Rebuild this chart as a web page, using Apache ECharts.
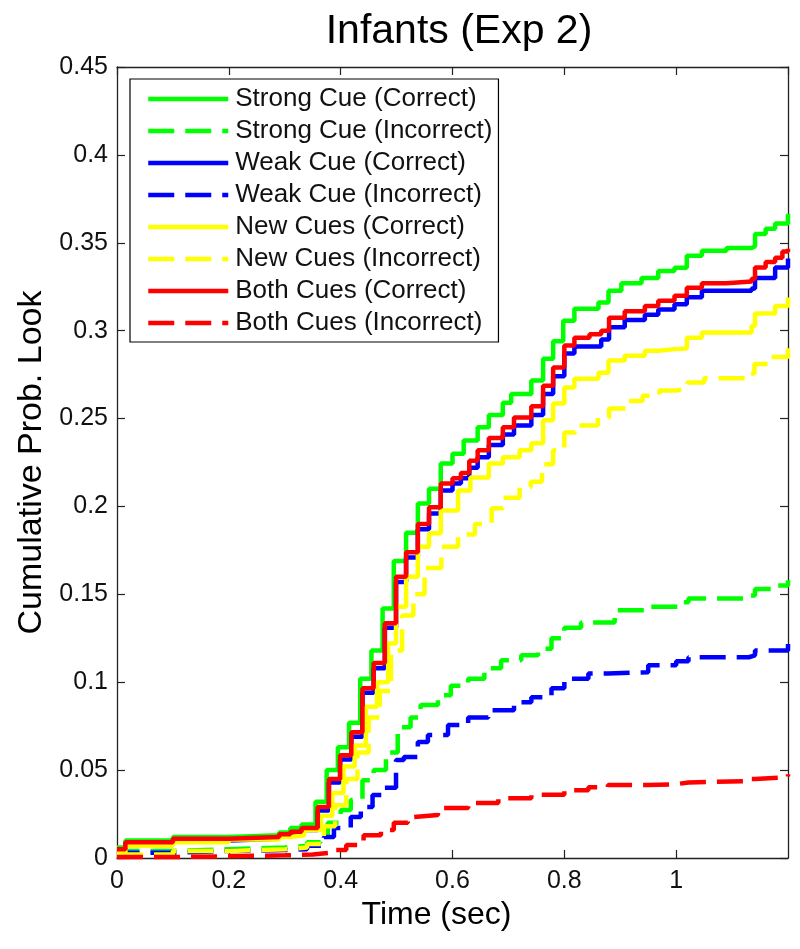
<!DOCTYPE html>
<html>
<head>
<meta charset="utf-8">
<script src="https://cdn.jsdelivr.net/npm/echarts@6/dist/echarts.min.js"></script>
<style>
html,body{margin:0;padding:0;background:#fff;}
#c{width:800px;height:949px;}
</style>
</head>
<body>
<div id="c"></div>
<script>
const titleText = "Infants (Exp 2)";
const xName = "Time (sec)";
const yName = "Cumulative Prob. Look";
const seriesNames = [
  "Strong Cue (Correct)", "Strong Cue (Incorrect)",
  "Weak Cue (Correct)", "Weak Cue (Incorrect)",
  "New Cues (Correct)", "New Cues (Incorrect)",
  "Both Cues (Correct)", "Both Cues (Incorrect)"
];
const seriesColors = ["#00ff00","#00ff00","#0000ff","#0000ff","#ffff00","#ffff00","#ff0000","#ff0000"];
const seriesDashed = [false,true,false,true,false,true,false,true];

const strongCorrect = [[0,0.006],[0.015,0.010],[0.1,0.012],[0.2,0.013],[0.29,0.0145],[0.31,0.017],[0.33,0.019],[0.355,0.032],[0.375,0.05],[0.395,0.063],[0.415,0.077],[0.435,0.102],[0.455,0.118],[0.475,0.142],[0.495,0.169],[0.517,0.185],[0.538,0.2017],[0.558,0.21],[0.579,0.2244],[0.6,0.23],[0.62,0.2375],[0.645,0.245],[0.665,0.252],[0.69,0.259],[0.705,0.264],[0.741,0.2716],[0.762,0.284],[0.78,0.294],[0.798,0.3057],[0.818,0.3125],[0.861,0.316],[0.879,0.3227],[0.902,0.327],[0.938,0.330],[0.968,0.334],[0.997,0.3358],[1.019,0.3426],[1.046,0.3455],[1.09,0.347],[1.135,0.348],[1.141,0.355],[1.16,0.358],[1.177,0.361],[1.2,0.3665]];
const strongIncorrect = [[0,0.002],[0.02,0.004],[0.1,0.005],[0.2,0.006],[0.3,0.007],[0.34,0.009],[0.364,0.013],[0.377,0.020],[0.40,0.0273],[0.418,0.033],[0.439,0.0443],[0.459,0.050],[0.481,0.060],[0.502,0.0744],[0.525,0.080],[0.543,0.087],[0.574,0.0926],[0.597,0.098],[0.628,0.102],[0.657,0.108],[0.687,0.1125],[0.723,0.1153],[0.753,0.119],[0.777,0.125],[0.80,0.131],[0.83,0.134],[0.89,0.141],[0.95,0.143],[1.01,0.1455],[1.022,0.1477],[1.13,0.1494],[1.141,0.153],[1.17,0.155],[1.2,0.158]];
const weakCorrect = [[0,0.004],[0.015,0.008],[0.1,0.010],[0.2,0.011],[0.29,0.0125],[0.31,0.014],[0.33,0.016],[0.359,0.027],[0.379,0.043],[0.399,0.056],[0.419,0.069],[0.439,0.094],[0.459,0.108],[0.479,0.131],[0.499,0.157],[0.517,0.171],[0.538,0.187],[0.558,0.196],[0.579,0.209],[0.6,0.213],[0.615,0.216],[0.63,0.222],[0.645,0.228],[0.665,0.235],[0.69,0.241],[0.71,0.246],[0.741,0.252],[0.762,0.264],[0.78,0.274],[0.80,0.287],[0.818,0.291],[0.866,0.295],[0.88,0.302],[0.908,0.306],[0.944,0.309],[0.968,0.312],[0.997,0.315],[1.019,0.319],[1.046,0.3227],[1.135,0.324],[1.141,0.330],[1.177,0.336],[1.2,0.341]];
const weakIncorrect = [[0,0.001],[0.02,0.003],[0.1,0.004],[0.2,0.0045],[0.3,0.005],[0.34,0.007],[0.37,0.012],[0.388,0.017],[0.418,0.0233],[0.436,0.029],[0.457,0.0358],[0.477,0.040],[0.499,0.0557],[0.513,0.0574],[0.538,0.066],[0.556,0.070],[0.592,0.0756],[0.628,0.080],[0.664,0.084],[0.71,0.0886],[0.741,0.0915],[0.777,0.0966],[0.80,0.102],[0.843,0.105],[0.878,0.1057],[0.95,0.1097],[1.0,0.112],[1.022,0.1142],[1.13,0.1153],[1.141,0.118],[1.2,0.122]];
const newCorrect = [[0,0.003],[0.015,0.007],[0.1,0.009],[0.2,0.0105],[0.29,0.012],[0.31,0.013],[0.335,0.016],[0.365,0.024],[0.385,0.037],[0.405,0.052],[0.425,0.064],[0.445,0.086],[0.465,0.100],[0.485,0.122],[0.499,0.143],[0.517,0.16],[0.538,0.177],[0.558,0.1847],[0.579,0.1977],[0.61,0.209],[0.632,0.2165],[0.665,0.2244],[0.69,0.228],[0.72,0.232],[0.741,0.236],[0.762,0.249],[0.78,0.2585],[0.80,0.2676],[0.818,0.2727],[0.861,0.276],[0.879,0.283],[0.908,0.2858],[0.944,0.2886],[0.968,0.2895],[0.997,0.2898],[1.019,0.296],[1.046,0.299],[1.135,0.3028],[1.141,0.3097],[1.177,0.314],[1.2,0.3188]];
const newIncorrect = [[0,0.002],[0.1,0.004],[0.2,0.005],[0.3,0.006],[0.34,0.008],[0.37,0.018],[0.39,0.03],[0.41,0.045],[0.43,0.06],[0.45,0.08],[0.47,0.095],[0.49,0.118],[0.51,0.138],[0.53,0.15],[0.55,0.165],[0.58,0.177],[0.61,0.184],[0.64,0.19],[0.67,0.199],[0.69,0.205],[0.72,0.211],[0.74,0.214],[0.76,0.224],[0.78,0.232],[0.80,0.242],[0.82,0.246],[0.86,0.2506],[0.88,0.2557],[0.91,0.26],[0.94,0.263],[0.97,0.266],[1.0,0.267],[1.02,0.2705],[1.05,0.273],[1.13,0.2756],[1.14,0.281],[1.17,0.285],[1.2,0.29]];
const bothCorrect = [[0,0.005],[0.015,0.009],[0.1,0.011],[0.2,0.012],[0.29,0.0135],[0.31,0.015],[0.33,0.017],[0.359,0.029],[0.379,0.045],[0.399,0.0585],[0.419,0.0716],[0.439,0.0966],[0.459,0.111],[0.479,0.1335],[0.499,0.16],[0.517,0.174],[0.538,0.19],[0.558,0.1995],[0.579,0.213],[0.6,0.216],[0.615,0.219],[0.63,0.226],[0.645,0.232],[0.665,0.239],[0.69,0.245],[0.71,0.2506],[0.741,0.257],[0.762,0.2687],[0.78,0.279],[0.80,0.2915],[0.818,0.296],[0.845,0.298],[0.866,0.300],[0.88,0.3074],[0.908,0.311],[0.944,0.314],[0.968,0.317],[0.997,0.3199],[1.019,0.3244],[1.046,0.327],[1.09,0.328],[1.135,0.3295],[1.141,0.336],[1.16,0.339],[1.177,0.3415],[1.19,0.345],[1.2,0.3466]];
const bothIncorrect = [[0,0.0005],[0.1,0.001],[0.2,0.0015],[0.3,0.002],[0.35,0.003],[0.382,0.0045],[0.41,0.0074],[0.441,0.013],[0.472,0.016],[0.495,0.020],[0.52,0.0233],[0.531,0.0244],[0.574,0.0284],[0.628,0.0313],[0.682,0.034],[0.741,0.036],[0.80,0.0386],[0.843,0.0403],[0.878,0.0415],[0.95,0.042],[1.0,0.043],[1.022,0.0437],[1.13,0.0449],[1.141,0.046],[1.2,0.0477]];

const allData = [strongCorrect, strongIncorrect, weakCorrect, weakIncorrect, newCorrect, newIncorrect, bothCorrect, bothIncorrect];

const FONT = "Liberation Sans, Arial, Helvetica, sans-serif";
const axisCol = "#222";

const chart = echarts.init(document.getElementById('c'), null, {renderer: 'canvas'});

const baseX = {
  type: 'value', min: 0, max: 1.2, interval: 0.2,
  axisLine: {show: true, onZero: false, lineStyle: {color: axisCol, width: 1.3}},
  axisTick: {show: true, inside: true, length: 8, lineStyle: {color: axisCol, width: 1.2}},
  splitLine: {show: false}
};
const baseY = {
  type: 'value', min: 0, max: 0.45, interval: 0.05,
  axisLine: {show: true, onZero: false, lineStyle: {color: axisCol, width: 1.3}},
  axisTick: {show: true, inside: true, length: 8, lineStyle: {color: axisCol, width: 1.2}},
  splitLine: {show: false}
};

const option = {
  backgroundColor: '#fff',
  animation: false,
  title: {
    text: titleText, left: 454, top: 6, textAlign: 'center',
    textStyle: {fontFamily: FONT, fontSize: 41, fontWeight: 'normal', color: '#000'}
  },
  grid: {left: 117, right: 12, top: 67, bottom: 91},
  legend: {
    orient: 'vertical', left: 130, top: 79,
    padding: [7, 6, 6, 16], itemGap: 6, itemWidth: 80, itemHeight: 20,
    backgroundColor: '#fff', borderColor: '#000', borderWidth: 1.2,
    textStyle: {fontFamily: FONT, fontSize: 26, lineHeight: 26, color: '#111', padding: [0, 0, 0, 2]},
    lineStyle: {width: 4.5},
    itemStyle: {color: 'rgba(0,0,0,0)', borderColor: 'rgba(0,0,0,0)', borderWidth: 0, opacity: 0},
    data: seriesNames
  },
  xAxis: [
    Object.assign({}, baseX, {
      position: 'bottom', name: xName, nameLocation: 'middle', nameGap: 40,
      nameTextStyle: {fontFamily: FONT, fontSize: 32, color: '#000', padding: [0, 32, 0, 0]},
      axisLabel: {fontFamily: FONT, fontSize: 25, color: '#111', margin: 11, showMaxLabel: false}
    }),
    Object.assign({}, baseX, {position: 'top', axisLabel: {show: false}})
  ],
  yAxis: [
    Object.assign({}, baseY, {
      position: 'left', name: yName, nameLocation: 'middle', nameGap: 63,
      nameTextStyle: {fontFamily: FONT, fontSize: 34, color: '#000'},
      axisLabel: {fontFamily: FONT, fontSize: 25, color: '#111', margin: 9}
    }),
    Object.assign({}, baseY, {position: 'right', axisLabel: {show: false}})
  ],
  series: seriesNames.map((n, i) => ({
    name: n, type: 'line', step: 'end', data: allData[i],
    xAxisIndex: 0, yAxisIndex: 0,
    symbol: 'none', showSymbol: false,
    lineStyle: {color: seriesColors[i], width: 4.5, type: seriesDashed[i] ? [26, 11] : 'solid'},
    itemStyle: {color: seriesColors[i]}
  }))
};
chart.setOption(option);
</script>
</body>
</html>
